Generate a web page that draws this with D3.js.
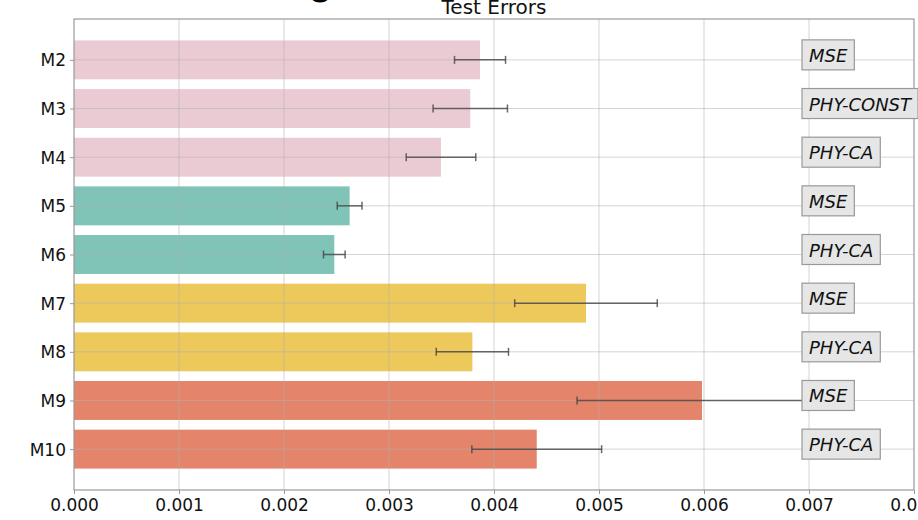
<!DOCTYPE html>
<html>
<head>
<meta charset="utf-8">
<script src="https://cdn.jsdelivr.net/npm/d3@7"></script>
<style>
  html, body { margin: 0; padding: 0; background: #fff; }
  svg { display: block; font-family: "DejaVu Sans", sans-serif; }
</style>
</head>
<body>
<svg id="chart" width="918" height="520"></svg>
<script>
// Model names, mean test errors and their standard deviations
const models = ["M2", "M3", "M4", "M5", "M6", "M7", "M8", "M9", "M10"];
const meanErr = [0.003867, 0.003774, 0.003495, 0.002625, 0.002479, 0.004876, 0.003794, 0.005981, 0.004407];
const stdErr = [0.000243, 0.000354, 0.000331, 0.000118, 0.000103, 0.000679, 0.000344, 0.001190, 0.000618];
const lossLabels = ["MSE", "PHY-CONST", "PHY-CA", "MSE", "PHY-CA", "MSE", "PHY-CA", "MSE", "PHY-CA"];
const groupOf = [0, 0, 0, 1, 1, 2, 2, 3, 3];
const groupColors = ["#ebcbd3", "#80c4b7", "#edc85a", "#e4846b"];
const xTicks = [0, 0.001, 0.002, 0.003, 0.004, 0.005, 0.006, 0.007, 0.008];

const svg = d3.select("#chart");
const plotL = 74, plotR = 914, plotT = 19, plotB = 490;

const x = d3.scaleLinear().domain([0, 0.008]).range([plotL, plotR]);
const yMargin = 0.05 * (models.length - 1 + 0.8);
const y = d3.scaleLinear()
  .domain([-0.4 - yMargin, models.length - 1 + 0.4 + yMargin])
  .range([plotT, plotB]);
const barH = y(0.8) - y(0);

// Large heading above the panel (mostly outside the canvas)
svg.append("text")
  .attr("x", 320).attr("y", 2)
  .attr("text-anchor", "middle")
  .attr("font-size", 44)
  .attr("fill", "#000")
  .text("o");

// Bars
svg.append("g").selectAll("rect")
  .data(models)
  .join("rect")
  .attr("x", x(0))
  .attr("y", (d, i) => y(i) - barH / 2)
  .attr("width", (d, i) => x(meanErr[i]) - x(0))
  .attr("height", barH)
  .attr("fill", (d, i) => groupColors[groupOf[i]]);

// Grid lines over the bars
const grid = svg.append("g").attr("stroke", "#b0b0b0").attr("stroke-opacity", 0.55).attr("stroke-width", 1);
grid.selectAll("line.v").data(xTicks.slice(1, -1)).join("line")
  .attr("class", "v")
  .attr("x1", d => x(d)).attr("x2", d => x(d))
  .attr("y1", plotT).attr("y2", plotB);
grid.selectAll("line.h").data(models).join("line")
  .attr("class", "h")
  .attr("x1", plotL).attr("x2", plotR)
  .attr("y1", (d, i) => y(i)).attr("y2", (d, i) => y(i));

// Error bars
const eb = svg.append("g").attr("stroke", "#444").attr("stroke-opacity", 0.8).attr("stroke-width", 1.5);
models.forEach((m, i) => {
  const x0 = x(meanErr[i] - stdErr[i]), x1 = x(meanErr[i] + stdErr[i]), yc = y(i);
  eb.append("line").attr("x1", x0).attr("x2", x1).attr("y1", yc).attr("y2", yc);
  eb.append("line").attr("x1", x0).attr("x2", x0).attr("y1", yc - 4).attr("y2", yc + 4);
  eb.append("line").attr("x1", x1).attr("x2", x1).attr("y1", yc - 4).attr("y2", yc + 4);
});

// Frame
svg.append("rect")
  .attr("x", plotL).attr("y", plotT)
  .attr("width", plotR - plotL).attr("height", plotB - plotT)
  .attr("fill", "none").attr("stroke", "#999").attr("stroke-width", 1.2);

// Axes
const xAxis = svg.append("g")
  .attr("transform", `translate(0,${plotB})`)
  .call(d3.axisBottom(x).tickValues(xTicks).tickFormat(d3.format(".3f")).tickSize(4).tickPadding(5));
const yAxis = svg.append("g")
  .attr("transform", `translate(${plotL},0)`)
  .call(d3.axisLeft(y).tickValues(d3.range(models.length)).tickFormat(i => models[i]).tickSize(4).tickPadding(4));
[xAxis, yAxis].forEach(a => {
  a.select(".domain").remove();
  a.selectAll(".tick line").attr("stroke", "#999");
  a.selectAll(".tick text").attr("fill", "#111").attr("font-size", 17)
    .attr("font-family", "DejaVu Sans, sans-serif");
});
yAxis.selectAll(".tick text").attr("dy", "0.35em");

// Title
svg.append("text")
  .attr("x", (plotL + plotR) / 2).attr("y", 14)
  .attr("text-anchor", "middle")
  .attr("font-size", 20)
  .attr("fill", "#111")
  .text("Test Errors");

// Loss-function tags at x = 0.007
const tags = svg.append("g");
models.forEach((m, i) => {
  const g = tags.append("g");
  const t = g.append("text")
    .attr("x", x(0.007))
    .attr("y", y(i) + 2)
    .attr("font-size", 18)
    .attr("font-style", "italic")
    .attr("fill", "#111")
    .text(lossLabels[i]);
  const w = t.node().getComputedTextLength();
  g.insert("rect", "text")
    .attr("x", x(0.007) - 7)
    .attr("y", y(i) - 20)
    .attr("width", w + 14)
    .attr("height", 30)
    .attr("fill", "#e6e6e6")
    .attr("stroke", "#999")
    .attr("stroke-width", 1.2);
});
</script>
</body>
</html>
